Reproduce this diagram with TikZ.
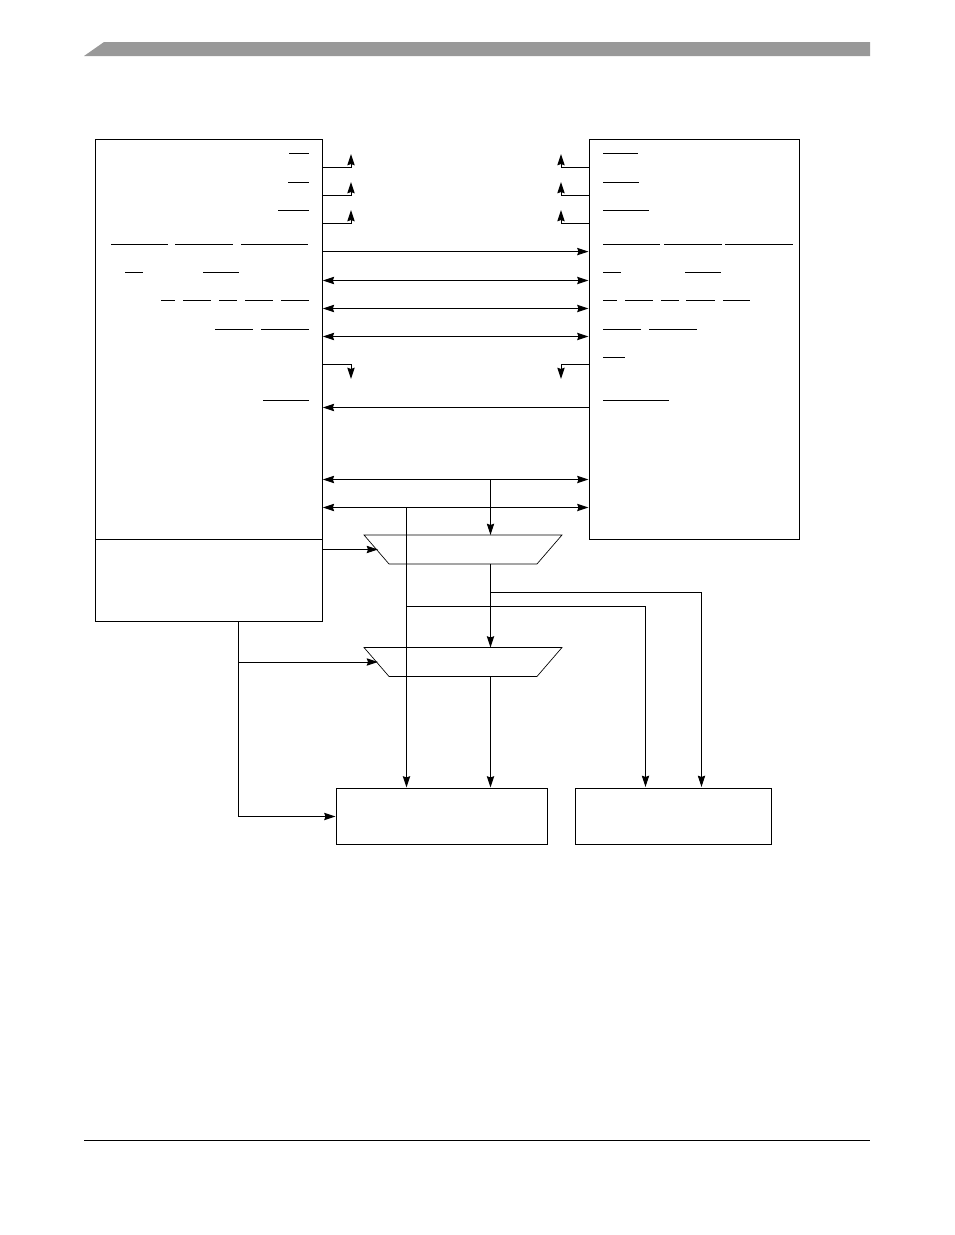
\documentclass[tikz,border=0pt]{standalone}
\usepackage{xcolor}
\usetikzlibrary{arrows.meta}
\definecolor{headergray}{RGB}{153, 153, 153}

\begin{document}
\begin{tikzpicture}[
    x=0.75pt, y=-0.75pt, line width=0.72pt,
    unit/.style   = {rectangle, draw, inner sep=0pt, anchor=north west},
    mux/.style    = {rectangle, inner sep=0pt, minimum width=147.75pt, minimum height=21pt},
    muxedge/.style = {line width=0.5pt},
    arr/.style    = {-{Stealth[length=8.5pt, width=5.5pt, inset=1pt]}},
    biarr/.style  = {{Stealth[length=8.5pt, width=5.5pt, inset=1pt]}-{Stealth[length=8.5pt, width=5.5pt, inset=1pt]}},
  ]
  \useasboundingbox (0,0) rectangle (954,1235);

  %% Page header and footer
  \fill[headergray] (84,56) -- (104,42) -- (870,42) -- (870,56) -- cycle;
  \coordinate (footl) at (84,1140.5);
  \coordinate (footr) at (870,1140.5);
  \draw (footl) -- (footr);

  %% Blocks
  \node[unit, minimum width=170.5pt, minimum height=300pt] (master) at (94.5,138.5) {};
  \node[unit, minimum width=170.5pt, minimum height=61.5pt] (ctrl) at (94.5,538.5) {};
  \node[unit, minimum width=157.5pt, minimum height=300pt] (slave) at (588.5,138.5) {};
  \node[unit, minimum width=158.5pt, minimum height=42pt] (ramlow) at (335.5,787.5) {};
  \node[unit, minimum width=147pt, minimum height=42pt] (ramhigh) at (574.5,787.5) {};

  %% Multiplexers
  \node[mux] (muxa) at (463,549.5) {};
  \node[mux] (muxb) at (463,662) {};
  \foreach \m in {muxa, muxb}
    \draw[muxedge] (\m.north west) -- (\m.north east)
      -- ([xshift=-18.75pt]\m.south east) -- ([xshift=18.75pt]\m.south west) -- cycle;
  \coordinate (muxasel) at ([xshift=10.5pt]muxa.west);
  \coordinate (muxbsel) at ([xshift=10.5pt]muxb.west);

  %% Branch points on the buses
  \coordinate (addrtap) at (490.5,479.5);
  \coordinate (datatap) at (406.5,507.5);
  \coordinate (muxtap)  at (490.5,592.5);
  \coordinate (datarun) at (406.5,606.5);
  \coordinate (ctrltap) at (238.5,662);

  %% Signal bars, left block
  \foreach \xa/\xb/\yy in {289/309/153.5, 288/309/182.5, 278/309/210.5,
      111/168/244.5, 175/233/244.5, 241/308/244.5, 125/143/272.5, 203/239/272.5,
      161/175/300.5, 183/211/300.5, 219/237/300.5, 245/273/300.5, 281/309/300.5,
      215/253/329.5, 261/309/329.5, 263/309/400.5}
    \draw (\xa,\yy) -- (\xb,\yy);

  %% Signal bars, right block
  \foreach \xa/\xb/\yy in {603/638/153.5, 603/639/182.5, 603/649/210.5,
      603/660/244.5, 664/722/244.5, 725/793/244.5, 603/621/272.5, 685/721/272.5,
      603/617/300.5, 625/653/300.5, 661/679/300.5, 686/715/300.5, 723/750/300.5,
      603/641/329.5, 649/697/329.5, 603/625/357.5, 603/669/400.5}
    \draw (\xa,\yy) -- (\xb,\yy);

  %% Stub outputs on both blocks
  \foreach \yy/\yt in {167.5/154, 195.5/182, 223.5/210, 364.5/379} {
    \draw[arr] (master.east |- 0,\yy) -- (351,\yy) -- (351,\yt);
    \draw[arr] (slave.west |- 0,\yy) -- (561,\yy) -- (561,\yt);
  }

  %% Buses between the blocks
  \draw[arr] (master.east |- 0,251.6) -- (slave.west |- 0,251.6);
  \foreach \yy in {280.5, 308.5, 336.5, 479.5, 507.5}
    \draw[biarr] (master.east |- 0,\yy) -- (slave.west |- 0,\yy);
  \draw[arr] (slave.west |- 0,407.5) -- (master.east |- 0,407.5);

  %% Address and data down to the multiplexers and memories
  \draw[arr] (addrtap) -- (addrtap |- muxa.north);
  \draw[arr] (datatap) -- (datatap |- ramlow.north);
  \draw[arr] (muxtap |- muxa.south) -- (muxtap |- muxb.north);
  \draw[arr] (muxtap) -- (701.5,592.5) -- (701.5,787);
  \draw[arr] (datarun) -- (645.5,606.5) -- (645.5,787);
  \draw[arr] (muxtap |- muxb.south) -- (muxtap |- ramlow.north);

  %% Select lines
  \draw[arr] (ctrl.east |- muxasel) -- (muxasel);
  \draw[arr] (ctrltap) -- (muxbsel);
  \draw[arr] (ctrltap |- ctrl.south) -- (238.5,816.5) -- (ramlow.west |- 0,816.5);

\end{tikzpicture}
\end{document}
